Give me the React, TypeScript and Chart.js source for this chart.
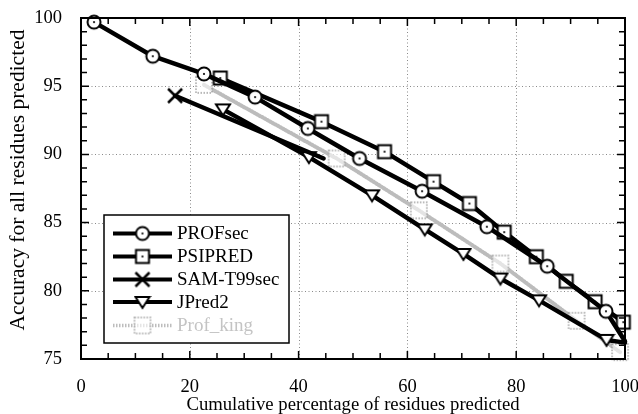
import React, { useEffect, useRef } from 'react';
import { Chart, registerables } from 'chart.js';
Chart.register(...registerables);

const seriesNames = ['PROFsec', 'PSIPRED', 'SAM-T99sec', 'JPred2', 'Prof_king'];

const profsecX = [2.4, 13.2, 22.6, 32.0, 41.7, 51.2, 62.7, 74.6, 85.7, 96.5, 100];
const profsecY = [99.7, 97.2, 95.9, 94.2, 91.9, 89.7, 87.3, 84.7, 81.8, 78.5, 76.3];

const psipredX = [25.6, 44.2, 55.8, 64.8, 71.4, 77.8, 83.7, 89.2, 94.5, 99.7];
const psipredY = [95.6, 92.4, 90.2, 88.0, 86.4, 84.3, 82.5, 80.7, 79.2, 77.7];

const samX = [17.3, 44.6];
const samY = [94.3, 89.7];

const jpredX = [26.1, 41.9, 53.5, 63.2, 70.3, 77.1, 84.2, 96.6, 100];
const jpredY = [93.3, 89.8, 87.0, 84.5, 82.7, 80.9, 79.3, 76.4, 76.2];

const profkingX = [22.6, 47.0, 62.1, 77.1, 91.1, 99.1];
const profkingY = [95.1, 89.7, 85.9, 82.0, 77.8, 75.5];

const xTicks = [0, 20, 40, 60, 80, 100];
const yTicks = [75, 80, 85, 90, 95, 100];

const xTitle = 'Cumulative percentage of residues predicted';
const yTitle = 'Accuracy for all residues predicted';

const SERIF = '"Liberation Serif", "Times New Roman", serif';

function makeMarker(size: number, draw: (ctx: CanvasRenderingContext2D, c: number) => void) {
  const cv = document.createElement('canvas');
  cv.width = size;
  cv.height = size;
  const ctx = cv.getContext('2d')!;
  draw(ctx, size / 2);
  return cv;
}

function toPoints(xs: number[], ys: number[]) {
  return xs.map((x, i) => ({ x, y: ys[i] }));
}

export default function App() {
  const ref = useRef<HTMLCanvasElement | null>(null);

  useEffect(() => {
    document.body.style.margin = '0';
    const circle = makeMarker(18, (ctx, c) => {
      ctx.beginPath();
      ctx.arc(c, c, 6.5, 0, Math.PI * 2);
      ctx.fillStyle = '#fff';
      ctx.fill();
      ctx.lineWidth = 2;
      ctx.strokeStyle = '#000';
      ctx.stroke();
      ctx.beginPath();
      ctx.arc(c, c, 1.1, 0, Math.PI * 2);
      ctx.fillStyle = '#000';
      ctx.fill();
    });
    const square = makeMarker(18, (ctx, c) => {
      ctx.fillStyle = '#fff';
      ctx.fillRect(c - 6.5, c - 6.5, 13, 13);
      ctx.lineWidth = 2;
      ctx.strokeStyle = '#000';
      ctx.strokeRect(c - 6.5, c - 6.5, 13, 13);
      ctx.beginPath();
      ctx.arc(c, c, 1.1, 0, Math.PI * 2);
      ctx.fillStyle = '#000';
      ctx.fill();
    });
    const cross = makeMarker(18, (ctx, c) => {
      ctx.lineWidth = 2.5;
      ctx.strokeStyle = '#000';
      ctx.beginPath();
      ctx.moveTo(c - 7, c - 7);
      ctx.lineTo(c + 7, c + 7);
      ctx.moveTo(c + 7, c - 7);
      ctx.lineTo(c - 7, c + 7);
      ctx.stroke();
    });
    const tri = makeMarker(18, (ctx, c) => {
      ctx.beginPath();
      ctx.moveTo(c - 7, c - 5);
      ctx.lineTo(c + 7, c - 5);
      ctx.lineTo(c, c + 6);
      ctx.closePath();
      ctx.fillStyle = '#fff';
      ctx.fill();
      ctx.lineWidth = 2;
      ctx.lineJoin = 'miter';
      ctx.strokeStyle = '#000';
      ctx.stroke();
    });
    const gsq = makeMarker(20, (ctx, c) => {
      ctx.fillStyle = 'rgba(255,255,255,0.6)';
      ctx.fillRect(c - 8, c - 8, 16, 16);
      ctx.setLineDash([1.5, 1.5]);
      ctx.lineWidth = 1.5;
      ctx.strokeStyle = '#a0a0a0';
      ctx.strokeRect(c - 8, c - 8, 16, 16);
    });

    const markers = [circle, square, cross, tri, gsq];

    const endZero = (n: number, lastOff: boolean) =>
      Array.from({ length: n }, (_, i) => (lastOff && i === n - 1 ? 0 : 5));

    const lineBase = {
      borderColor: '#000',
      borderWidth: 4.5,
      borderJoinStyle: 'round' as const,
      borderCapStyle: 'round' as const,
      tension: 0,
      fill: false,
      clip: false as any,
    };

    const frameTicks = {
      id: 'frameTicks',
      beforeDatasetsDraw(chart: any) {
        const { ctx, chartArea: a, scales } = chart;
        const xs = scales.x, ys = scales.y;
        ctx.save();
        ctx.strokeStyle = '#8a8a8a';
        ctx.lineWidth = 1;
        ctx.setLineDash([1, 2.5]);
        xTicks.slice(1, -1).forEach((v) => {
          const px = Math.round(xs.getPixelForValue(v)) + 0.5;
          ctx.beginPath();
          ctx.moveTo(px, a.top);
          ctx.lineTo(px, a.bottom);
          ctx.stroke();
        });
        yTicks.slice(1, -1).forEach((v) => {
          const py = Math.round(ys.getPixelForValue(v)) + 0.5;
          ctx.beginPath();
          ctx.moveTo(a.left, py);
          ctx.lineTo(a.right, py);
          ctx.stroke();
        });
        ctx.restore();
      },
      afterDatasetsDraw(chart: any) {
        const { ctx, chartArea: a, scales } = chart;
        const xs = scales.x, ys = scales.y;
        ctx.save();
        ctx.strokeStyle = '#000';
        ctx.lineWidth = 2;
        ctx.setLineDash([]);
        ctx.strokeRect(a.left, a.top, a.right - a.left, a.bottom - a.top);
        ctx.lineWidth = 1.5;
        ctx.beginPath();
        for (let v = 5; v < 100; v += 5) {
          const px = xs.getPixelForValue(v);
          const len = v % 20 === 0 ? 8 : 6;
          ctx.moveTo(px, a.bottom);
          ctx.lineTo(px, a.bottom - len);
          ctx.moveTo(px, a.top);
          ctx.lineTo(px, a.top + len);
        }
        for (let v = 76; v < 100; v += 1) {
          const py = ys.getPixelForValue(v);
          const len = v % 5 === 0 ? 8 : 6;
          ctx.moveTo(a.left, py);
          ctx.lineTo(a.left + len, py);
          ctx.moveTo(a.right, py);
          ctx.lineTo(a.right - len, py);
        }
        ctx.stroke();
        ctx.restore();
      },
      afterDraw(chart: any) {
        const { ctx, chartArea: a } = chart;
        ctx.save();
        // axis titles
        ctx.fillStyle = '#000';
        ctx.textAlign = 'center';
        ctx.textBaseline = 'middle';
        ctx.font = `18.7px ${SERIF}`;
        ctx.fillText(xTitle, (a.left + a.right) / 2, 405);
        ctx.save();
        ctx.translate(18, 180);
        ctx.rotate(-Math.PI / 2);
        ctx.font = `21.5px ${SERIF}`;
        ctx.fillText(yTitle, 0, 0);
        ctx.restore();
        // legend
        const bx = 104, by = 215, bw = 185, bh = 128;
        ctx.fillStyle = '#fff';
        ctx.fillRect(bx, by, bw, bh);
        ctx.strokeStyle = '#000';
        ctx.lineWidth = 1.5;
        ctx.strokeRect(bx, by, bw, bh);
        const rowY = [233.5, 256.5, 279.5, 302, 325.5];
        seriesNames.forEach((name, i) => {
          const y = rowY[i];
          const gray = i === 4;
          ctx.beginPath();
          ctx.lineWidth = gray ? 3.5 : 4;
          ctx.strokeStyle = gray ? '#bdbdbd' : '#000';
          ctx.setLineDash(gray ? [1.5, 1.5] : []);
          ctx.moveTo(113, y);
          ctx.lineTo(172, y);
          ctx.stroke();
          ctx.setLineDash([]);
          const m = markers[i];
          ctx.drawImage(m, 142.5 - m.width / 2, y - m.height / 2);
          ctx.fillStyle = gray ? '#c4c4c4' : '#000';
          ctx.font = `19px ${SERIF}`;
          ctx.textBaseline = 'middle';
          ctx.textAlign = 'left';
          ctx.fillText(name, 177, y + 1);
        });
        ctx.restore();
      },
    };

    const chart = new Chart(ref.current!, {
      type: 'line',
      data: {
        datasets: [
          {
            ...lineBase,
            label: seriesNames[0],
            data: toPoints(profsecX, profsecY),
            pointStyle: circle as any,
            pointRadius: endZero(profsecX.length, true),
          },
          {
            ...lineBase,
            label: seriesNames[1],
            data: toPoints(psipredX, psipredY),
            pointStyle: square as any,
            pointRadius: endZero(psipredX.length, false),
          },
          {
            ...lineBase,
            label: seriesNames[2],
            data: toPoints(samX, samY),
            pointStyle: cross as any,
            pointRadius: endZero(samX.length, true),
          },
          {
            ...lineBase,
            label: seriesNames[3],
            data: toPoints(jpredX, jpredY),
            pointStyle: tri as any,
            pointRadius: endZero(jpredX.length, true),
          },
          {
            ...lineBase,
            label: seriesNames[4],
            data: toPoints(profkingX, profkingY),
            borderColor: '#bcbcbc',
            borderWidth: 4,
            borderDash: [1.5, 1.5],
            pointStyle: gsq as any,
            pointRadius: endZero(profkingX.length, false),
          },
        ],
      },
      options: {
        animation: false,
        responsive: false,
        events: [],
        layout: { padding: { top: 18, right: 13, left: 0, bottom: 0 } },
        plugins: { legend: { display: false }, tooltip: { enabled: false } },
        scales: {
          x: {
            type: 'linear',
            min: 0,
            max: 100,
            afterBuildTicks: (s: any) => {
              s.ticks = xTicks.map((v) => ({ value: v }));
            },
            afterFit: (s: any) => {
              s.height = 55;
              s.paddingLeft = 0;
              s.paddingRight = 0;
            },
            grid: { display: false },
            border: { display: false },
            ticks: { color: '#000', font: { family: SERIF, size: 18.5 }, padding: 9, maxRotation: 0 },
          },
          y: {
            type: 'linear',
            min: 75,
            max: 100,
            afterBuildTicks: (s: any) => {
              s.ticks = yTicks.map((v) => ({ value: v }));
            },
            afterFit: (s: any) => {
              s.width = 81;
              s.paddingTop = 0;
              s.paddingBottom = 0;
            },
            grid: { display: false },
            border: { display: false },
            ticks: { color: '#000', font: { family: SERIF, size: 18.5 }, padding: 11 },
          },
        },
      },
      plugins: [frameTicks],
    });
    return () => chart.destroy();
  }, []);

  return (
    <div style={{ position: 'fixed', left: 0, top: 0, width: 638, height: 414, background: '#fff' }}>
      <canvas ref={ref} width={638} height={414} style={{ display: 'block', width: 638, height: 414 }} />
    </div>
  );
}
